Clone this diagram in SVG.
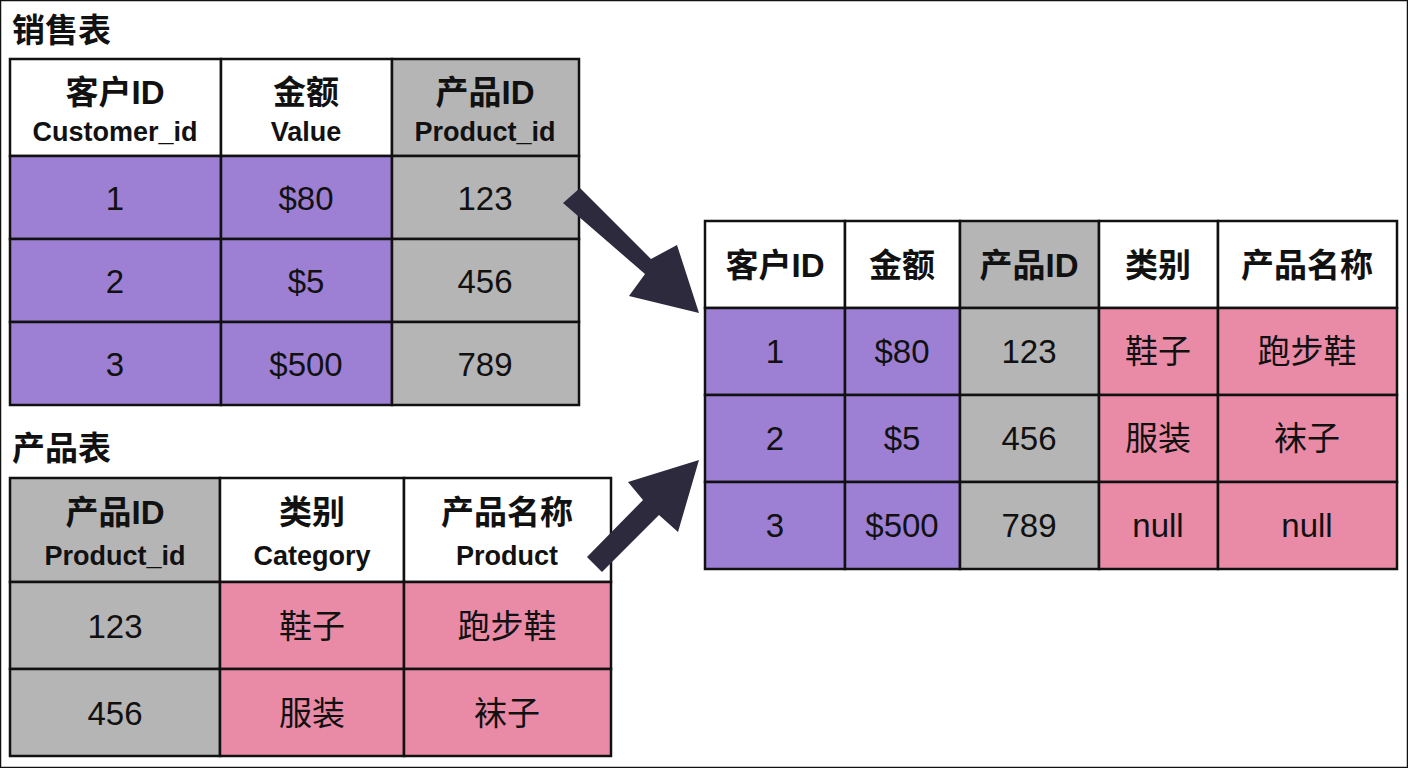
<svg xmlns="http://www.w3.org/2000/svg" width="1408" height="768" viewBox="0 0 1408 768">
<style>
.p{fill:#9d80d4}.g{fill:#b5b5b5}.k{fill:#e98ba7}.w{fill:#fff}
rect{stroke:#111;stroke-width:2.5}
text{font-family:"Liberation Sans","Noto Sans CJK SC",sans-serif;text-anchor:middle;fill:#111}
.h{font-size:33px;font-weight:bold}.e{font-size:27px;font-weight:bold}.d{font-size:33px}
.t{font-size:33px;font-weight:bold;text-anchor:start}
</style>
<rect x="0" y="0" width="1408" height="768" fill="#fff" stroke="none"/>
<g id="sales">
<text class="t" x="12" y="42">销售表</text>
<rect class="w" x="10" y="59" width="211" height="97"/><rect class="w" x="221" y="59" width="171" height="97"/><rect class="g" x="392" y="59" width="187" height="97"/>
<text class="h" x="115" y="104">客户ID</text><text class="e" x="115" y="141">Customer_id</text>
<text class="h" x="306" y="104">金额</text><text class="e" x="306" y="141">Value</text>
<text class="h" x="485" y="104">产品ID</text><text class="e" x="485" y="141">Product_id</text>
<rect class="p" x="10" y="156" width="211" height="83"/><rect class="p" x="221" y="156" width="171" height="83"/><rect class="g" x="392" y="156" width="187" height="83"/>
<rect class="p" x="10" y="239" width="211" height="83"/><rect class="p" x="221" y="239" width="171" height="83"/><rect class="g" x="392" y="239" width="187" height="83"/>
<rect class="p" x="10" y="322" width="211" height="83"/><rect class="p" x="221" y="322" width="171" height="83"/><rect class="g" x="392" y="322" width="187" height="83"/>
<text class="d" x="115" y="210">1</text><text class="d" x="306" y="210">$80</text><text class="d" x="485" y="210">123</text>
<text class="d" x="115" y="293">2</text><text class="d" x="306" y="293">$5</text><text class="d" x="485" y="293">456</text>
<text class="d" x="115" y="376">3</text><text class="d" x="306" y="376">$500</text><text class="d" x="485" y="376">789</text>
</g>
<g id="products">
<text class="t" x="12" y="460">产品表</text>
<rect class="g" x="10" y="478" width="210" height="104"/><rect class="w" x="220" y="478" width="184" height="104"/><rect class="w" x="404" y="478" width="207" height="104"/>
<text class="h" x="115" y="524">产品ID</text><text class="e" x="115" y="565">Product_id</text>
<text class="h" x="312" y="524">类别</text><text class="e" x="312" y="565">Category</text>
<text class="h" x="507" y="524">产品名称</text><text class="e" x="507" y="565">Product</text>
<rect class="g" x="10" y="582" width="210" height="87"/><rect class="k" x="220" y="582" width="184" height="87"/><rect class="k" x="404" y="582" width="207" height="87"/>
<rect class="g" x="10" y="669" width="210" height="87"/><rect class="k" x="220" y="669" width="184" height="87"/><rect class="k" x="404" y="669" width="207" height="87"/>
<text class="d" x="115" y="638">123</text><text class="d" x="312" y="638">鞋子</text><text class="d" x="507" y="638">跑步鞋</text>
<text class="d" x="115" y="725">456</text><text class="d" x="312" y="725">服装</text><text class="d" x="507" y="725">袜子</text>
</g>
<g id="result">
<rect class="w" x="705" y="221" width="140" height="87"/><rect class="w" x="845" y="221" width="115" height="87"/><rect class="g" x="960" y="221" width="139" height="87"/><rect class="w" x="1099" y="221" width="119" height="87"/><rect class="w" x="1218" y="221" width="179" height="87"/>
<text class="h" x="775" y="277">客户ID</text><text class="h" x="902" y="277">金额</text><text class="h" x="1029" y="277">产品ID</text><text class="h" x="1158" y="277">类别</text><text class="h" x="1307" y="277">产品名称</text>
<rect class="p" x="705" y="308" width="140" height="87"/><rect class="p" x="845" y="308" width="115" height="87"/><rect class="g" x="960" y="308" width="139" height="87"/><rect class="k" x="1099" y="308" width="119" height="87"/><rect class="k" x="1218" y="308" width="179" height="87"/>
<rect class="p" x="705" y="395" width="140" height="87"/><rect class="p" x="845" y="395" width="115" height="87"/><rect class="g" x="960" y="395" width="139" height="87"/><rect class="k" x="1099" y="395" width="119" height="87"/><rect class="k" x="1218" y="395" width="179" height="87"/>
<rect class="p" x="705" y="482" width="140" height="87"/><rect class="p" x="845" y="482" width="115" height="87"/><rect class="g" x="960" y="482" width="139" height="87"/><rect class="k" x="1099" y="482" width="119" height="87"/><rect class="k" x="1218" y="482" width="179" height="87"/>
<text class="d" x="775" y="363">1</text><text class="d" x="902" y="363">$80</text><text class="d" x="1029" y="363">123</text><text class="d" x="1158" y="363">鞋子</text><text class="d" x="1307" y="363">跑步鞋</text>
<text class="d" x="775" y="450">2</text><text class="d" x="902" y="450">$5</text><text class="d" x="1029" y="450">456</text><text class="d" x="1158" y="450">服装</text><text class="d" x="1307" y="450">袜子</text>
<text class="d" x="775" y="537">3</text><text class="d" x="902" y="537">$500</text><text class="d" x="1029" y="537">789</text><text class="d" x="1158" y="537">null</text><text class="d" x="1307" y="537">null</text>
</g>
<g id="connectors" fill="#2e2a3e">
<polygon points="563,203 580,188 651,259 677,245 699,313 629,296 645,274"/>
<polygon points="587,557 602,572 659,515 678,532 699,460 628,482 643,500"/>
</g>
</svg>
